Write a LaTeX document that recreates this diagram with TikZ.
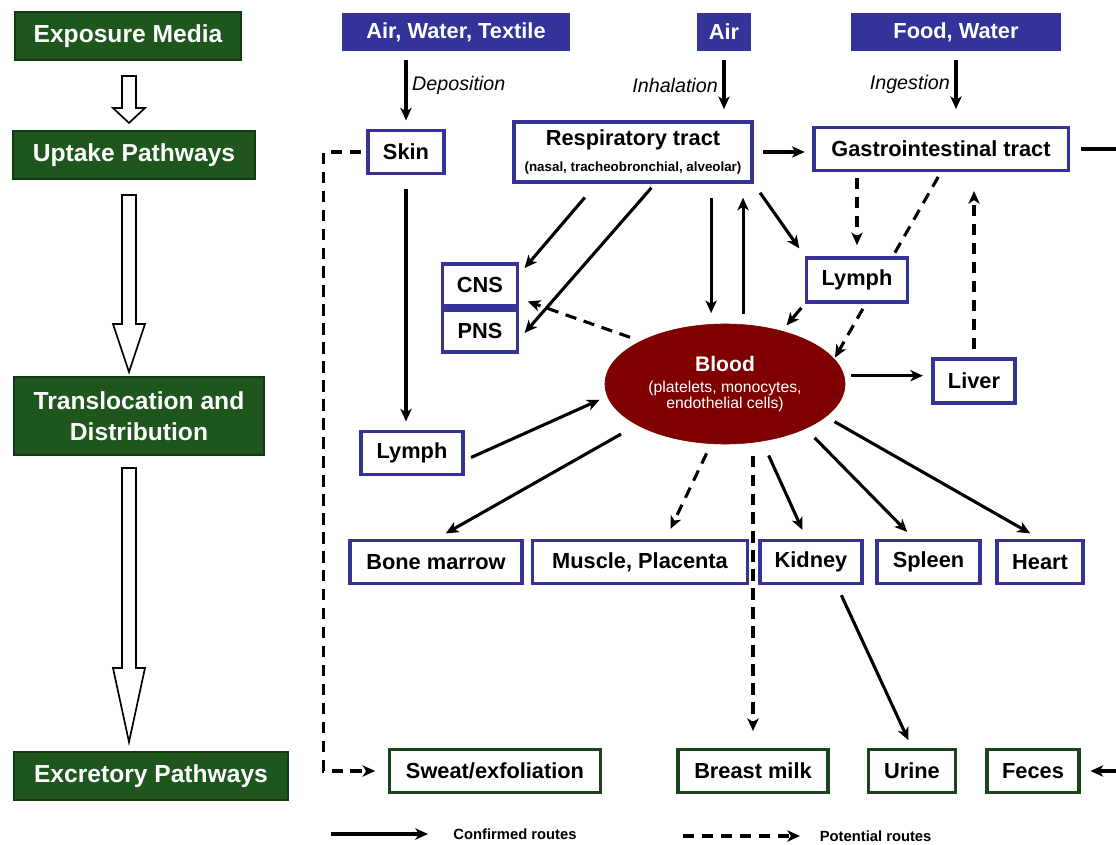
\documentclass[tikz,border=0pt]{standalone}
\usepackage{fontspec}
\setmainfont{Liberation Sans}
\usepackage{tikz}
\usetikzlibrary{calc, arrows.meta, shapes.geometric, backgrounds}
\definecolor{stagegreen}{RGB}{30,86,30}
\definecolor{stageedge}{RGB}{18,58,18}
\definecolor{srcblue}{RGB}{51,51,153}
\definecolor{bloodred}{RGB}{128,0,0}
\definecolor{exgreen}{RGB}{28,68,28}

\begin{document}
\begin{tikzpicture}[x=0.025cm, y=-0.025cm,
    stage/.style={draw=stageedge, fill=stagegreen, line width=1.2pt, text=white,
      inner sep=0pt, align=center, font=\bfseries\fontsize{17.5}{22}\selectfont},
    source/.style={fill=srcblue, text=white, inner sep=0pt, minimum height=0.95cm,
      font=\bfseries\fontsize{15.5}{18}\selectfont},
    organ/.style={draw=srcblue, fill=white, line width=2.2pt, inner sep=0pt,
      minimum height=1.075cm, align=center, font=\bfseries\fontsize{15.5}{18}\selectfont},
    outlet/.style={organ, draw=exgreen},
    link/.style={line width=2.2pt},
    conf/.style={link, -{Stealth[length=9pt,width=8pt,inset=2.5pt]}},
    pot/.style={conf, dash pattern=on 8pt off 5.5pt},
    hollow/.style={draw=black, line width=1.2pt, fill=white, line join=miter},
    route/.style={font=\itshape\fontsize{14}{17}\selectfont},
    legendtext/.style={inner sep=0pt, font=\bfseries\fontsize{10.5}{12}\selectfont}]
  \useasboundingbox (0,0) rectangle (1116,845);

  % 1. 左側四個階段
  \node[stage, minimum width=5.65cm, minimum height=1.2cm] (expo) at (128,36) {Exposure Media};
  \node[stage, minimum width=6.05cm, minimum height=1.2cm] (uptake) at (134,155) {Uptake Pathways};
  \node[stage, minimum width=6.25cm, minimum height=1.95cm] (transloc) at (139,416) {Translocation and\\Distribution};
  \node[stage, minimum width=6.85cm, minimum height=1.2cm] (excret) at (151,776) {Excretory Pathways};

  % 2. 階段之間的空心箭頭
  \foreach \ya/\yb/\yc in {76/108/123, 195/324/372, 468/668/742}
    \draw[hollow] (122,\ya) -- (136,\ya) -- (136,\yb) -- (145,\yb) -- (129,\yc)
      -- (113,\yb) -- (122,\yb) -- cycle;

  % 3. 暴露來源
  \node[source, minimum width=5.7cm] (srcwater) at (456,32) {Air, Water, Textile};
  \node[source, minimum width=1.35cm] (srcair) at (724,32) {Air};
  \node[source, minimum width=5.225cm] (srcfood) at (956,32) {Food, Water};

  % 4. 吸收途徑
  \node[organ, minimum width=1.9cm] (skin) at (406,152) {Skin};
  \node[organ, minimum width=5.95cm, minimum height=1.5cm] (resp) at (633,152)
    {{\fontsize{15.5}{18}\selectfont Respiratory tract}\\[1pt]
     {\fontsize{9.5}{11}\selectfont (nasal, tracheobronchial, alveolar)}};
  \node[organ, minimum width=6.35cm] (gi) at (941,149) {Gastrointestinal tract};

  % 5. 轉移與分布
  \node[organ, minimum width=1.875cm, minimum height=1.05cm] (cns) at (480,285) {CNS};
  \node[organ, minimum width=1.875cm, minimum height=1.05cm] (pns) at (480,331) {PNS};
  \node[organ, minimum width=2.525cm, minimum height=1.1cm] (lymphU) at (857,280) {Lymph};
  \node[ellipse, fill=bloodred, draw=bloodred, minimum width=6cm, minimum height=3cm,
    text=white, align=center, inner sep=0pt] (blood) at (725,384)
    {{\bfseries\fontsize{15}{18}\selectfont Blood}\\[3pt]
     {\fontsize{11.2}{14}\selectfont (platelets, monocytes,}\\
     {\fontsize{11.2}{14}\selectfont endothelial cells)}};
  \node[organ, minimum width=2.05cm, minimum height=1.1cm] (liver) at (974,381) {Liver};
  \node[organ, minimum width=2.55cm] (lymphL) at (412,453) {Lymph};
  \node[organ, minimum width=4.3cm] (bone) at (436,562) {Bone marrow};
  \node[organ, minimum width=5.375cm] (muscle) at (640,562) {Muscle, Placenta};
  \node[organ, minimum width=2.55cm] (kidney) at (811,562) {Kidney};
  \node[organ, minimum width=2.575cm] (spleen) at (928.5,562) {Spleen};
  \node[organ, minimum width=2.15cm] (heart) at (1040,562) {Heart};

  % 6. 排出途徑
  \node[outlet, minimum width=5.275cm] (sweat) at (495,771) {Sweat/exfoliation};
  \node[outlet, minimum width=3.75cm] (milk) at (753,771) {Breast milk};
  \node[outlet, minimum width=2.175cm] (urine) at (912,771) {Urine};
  \node[outlet, minimum width=2.3cm] (feces) at (1033,771) {Feces};

  % 7. 圖例與右側出口
  \coordinate (giout) at (1116,149);
  \coordinate (fecesin) at (1116,771);
  \coordinate (confA) at (331,834);
  \coordinate (confB) at (428,834);
  \coordinate (potA) at (683,836);
  \coordinate (potB) at (800,836);

  \begin{scope}[on background layer]
    % 8. 暴露 -> 吸收
    \draw[conf, shorten <=6pt, shorten >=6pt] (srcwater.south -| skin.north) -- (skin.north)
      node[route, right, pos=0.44] {Deposition};
    \draw[conf, shorten <=6pt, shorten >=8pt] (srcair.south) -- (srcair.south |- resp.north)
      node[route, left, pos=0.49] {Inhalation};
    \draw[conf, shorten <=6pt, shorten >=12pt] (srcfood.south) -- (srcfood.south |- gi.north)
      node[route, left, pos=0.45] {Ingestion};

    % 9. 皮膚
    \draw[conf, shorten <=10pt, shorten >=6pt] (skin.south) -- (skin.south |- lymphL.north);
    \draw[pot, shorten <=4pt, shorten >=9pt] (skin.west) -- ($(skin.west)+(-43,0)$) |- (sweat.west);
    \draw[conf, shorten <=5pt, shorten >=6pt] (lymphL.-8) -- (blood.186);

    % 10. 呼吸道
    \draw[conf, shorten <=13pt, shorten >=6pt] (resp.221) -- (cns.15);
    \draw[conf, shorten <=4pt, shorten >=6pt] (resp.-55) -- (pns.-12);
    \draw[pot, shorten <=8pt, shorten >=6.5pt] (blood.153) -- (cns.-19);
    \draw[conf, shorten <=10.5pt, shorten >=7.5pt] (resp.-22) -- (resp.-22 |- blood.north);
    \draw[conf, shorten <=7pt, shorten >=10pt] (resp.-16.4 |- blood.north) -- (resp.-16.4);
    \draw[conf, shorten <=8pt, shorten >=7pt] (resp.south east) -- (lymphU.north west);
    \draw[conf, shorten <=7pt, shorten >=5.5pt] (resp.east) -- (resp.east -| gi.west);

    % 11. 消化道
    \draw[pot, shorten <=4pt, shorten >=8pt] (lymphU.north |- gi.south) -- (lymphU.north);
    \draw[pot, shorten <=4pt, shorten >=1pt] (gi.south) -- (blood.13);
    \draw[pot, shorten <=6pt, shorten >=13.5pt] (liver.north) -- (liver.north |- gi.south);
    \draw[link, shorten <=8pt] (gi.east) -- (giout);
    \draw[conf, shorten >=7pt] (fecesin) -- (feces.east);

    % 12. 血液
    \draw[conf, shorten <=4pt, shorten >=5pt] (lymphU.south west) -- (blood.43);
    \draw[conf, shorten <=5pt, shorten >=6pt] (blood.4) -- (blood.4 -| liver.west);
    \draw[conf, shorten <=13pt, shorten >=8pt] (blood.-155) -- (bone.north);
    \draw[pot, shorten <=7.5pt, shorten >=8pt] (blood.-103) -- (muscle.42);
    \draw[pot, shorten <=8pt, shorten >=12pt] (blood.south -| milk.north) -- (milk.north);
    \draw[conf, shorten <=11pt, shorten >=7pt] (blood.-57) -- (kidney.101);
    \draw[conf, shorten <=9pt, shorten >=7pt] (blood.-29) -- (spleen.122);
    \draw[conf, shorten <=7pt, shorten >=8pt] (blood.-18) -- (heart.north);
    \draw[conf, shorten <=8pt, shorten >=6pt] (kidney.-42.5) -- (urine.north);
  \end{scope}

  % 13. 圖例
  \draw[conf] (confA) -- (confB) node[legendtext, right=17pt] {Confirmed routes};
  \draw[pot] (potA) -- (potB) node[legendtext, right=13pt] {Potential routes};
\end{tikzpicture}
\end{document}
